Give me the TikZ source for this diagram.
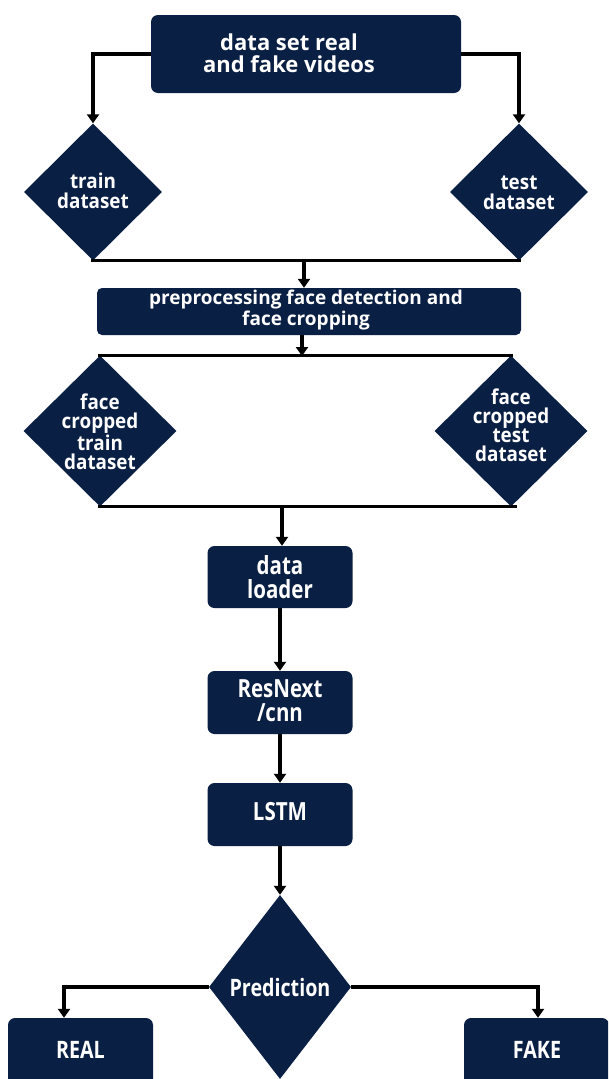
\documentclass[tikz,border=0pt]{standalone}
\usepackage{fontspec}
\setmainfont{Open Sans}
\newfontfamily\fN{Open Sans}[FakeStretch=0.82]
\newfontfamily\fD{Open Sans}[FakeStretch=0.92]
\usetikzlibrary{shapes.geometric,arrows.meta}
\definecolor{navy}{RGB}{10,31,68}
\tikzset{
  box/.style={fill=navy, rounded corners=7pt, inner sep=0pt},
  dia/.style={shape=diamond, fill=navy, inner sep=0pt},
  txt/.style={text=white, align=center, inner sep=0pt, font=\bfseries},
  link/.style={line width=3.2pt, draw=black},
  arr/.style={link, -{Triangle[width=12pt,length=9pt]}},
}
\begin{document}
\begin{tikzpicture}[x=1pt, y=-1pt]
\clip (0,0) rectangle (608,1079);
\fill[white] (0,0) rectangle (608,1079);
% top box
\node[box, minimum width=310pt, minimum height=78pt] (top) at (306,54) {};
\node[txt, font=\bfseries\fontsize{22}{22}\selectfont] (toptxt) at (289,53) {data set real\\and fake videos};
% train / test diamonds
\node[dia, minimum width=138pt, minimum height=137pt] (train) at (93,192) {};
\node[txt, font=\fD\bfseries\fontsize{20.5}{20}\selectfont] (traint) at (93,191) {train\\dataset};
\node[dia, minimum width=138pt, minimum height=137pt] (test) at (519,192) {};
\node[txt, font=\fD\bfseries\fontsize{20.5}{20}\selectfont] (testt) at (519,193) {test\\dataset};
% preprocessing
\node[box, rounded corners=5pt, minimum width=424pt, minimum height=47pt] (pre) at (309,311.5) {};
\node[txt, font=\bfseries\fontsize{19}{17.5}\selectfont] (pret) at (306,310) {preprocessing face detection and\\face cropping};
% face cropped diamonds
\node[dia, minimum width=153pt, minimum height=151pt] (fctrain) at (100,431) {};
\node[txt, font=\fD\bfseries\fontsize{20.5}{19}\selectfont] (fctraint) at (100,432) {face\\cropped\\train\\dataset};
\node[dia, minimum width=153pt, minimum height=151pt] (fctest) at (511,431) {};
\node[txt, font=\fD\bfseries\fontsize{20.5}{19}\selectfont] (fctestt) at (511,425) {face\\cropped\\test\\dataset};
% pipeline boxes
\node[box, minimum width=145pt, minimum height=62pt] (loader) at (280,577) {};
\node[txt, font=\fN\bfseries\fontsize{25}{24}\selectfont] (loadert) at (280,577) {data\\loader};
\node[box, minimum width=145pt, minimum height=63pt] (resnext) at (280,702.5) {};
\node[txt, font=\fN\bfseries\fontsize{25}{24}\selectfont] (resnextt) at (280,701) {ResNext\\/cnn};
\node[box, minimum width=145pt, minimum height=63pt] (lstm) at (280,814.5) {};
\node[txt, font=\fN\bfseries\fontsize{25}{24}\selectfont] (lstmt) at (280,812) {LSTM};
% prediction
\node[dia, minimum width=142pt, minimum height=184pt] (pred) at (280,987) {};
\node[txt, font=\fN\bfseries\fontsize{24}{24}\selectfont] (predt) at (280,987) {Prediction};
% outputs
\node[box, minimum width=145pt, minimum height=80pt] (real) at (80.5,1058) {};
\node[txt, font=\fN\bfseries\fontsize{24}{24}\selectfont] (realt) at (80.5,1050) {REAL};
\node[box, minimum width=145pt, minimum height=80pt] (fake) at (536.5,1058) {};
\node[txt, font=\fN\bfseries\fontsize{24}{24}\selectfont] (faket) at (537,1050) {FAKE};
% connectors
\draw[arr] (top.west) -| (train.north);
\draw[arr] (top.east) -| (test.north);
\draw[link, line cap=rect] (train.south) -- (test.south);
\coordinate (j1) at (304,260);
\draw[arr] (j1) -- (j1 |- pre.north);
\draw[link, line cap=rect] (fctrain.north) -- (fctest.north);
\coordinate (j2) at (302,356);
\draw[arr] (pre.south -| j2) -- (j2);
\draw[link, line cap=rect] (fctrain.south) -- ([xshift=4pt]fctest.south);
\coordinate (j3) at (282,508);
\draw[arr] (j3) -- (j3 |- loader.north);
\draw[arr] (loader.south) -- (resnext.north);
\draw[arr] (resnext.south) -- (lstm.north);
\draw[arr] (lstm.south) -- (pred.north);
\draw[arr] (pred.west) -| (real.north -| 64,0);
\draw[arr] (pred.east) -| (fake.north -| 538,0);
\end{tikzpicture}
\end{document}
